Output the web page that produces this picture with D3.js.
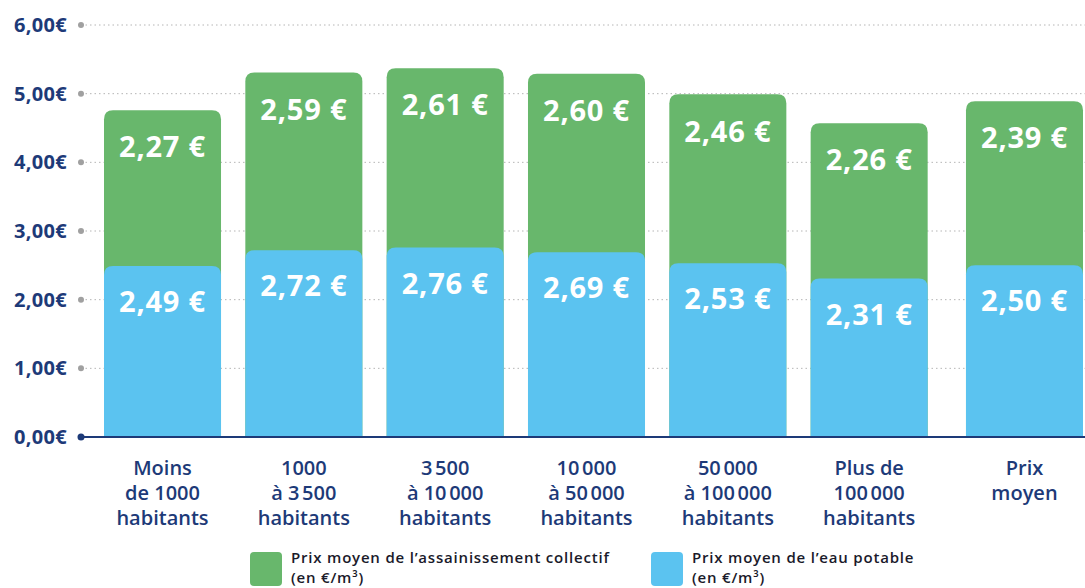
<!DOCTYPE html>
<html><head><meta charset="utf-8">
<script src="https://cdn.jsdelivr.net/npm/d3@7"></script>
<style>
html,body{margin:0;padding:0;background:#fff;}
svg{display:block;font-family:"Open Sans", Lato, sans-serif;}
</style></head>
<body>
<svg id="chart" width="1085" height="588"></svg>
<script>
const categories = [
  ["Moins", "de 1000", "habitants"],
  ["1000", "à 3\u202F500", "habitants"],
  ["3\u202F500", "à 10\u202F000", "habitants"],
  ["10\u202F000", "à 50\u202F000", "habitants"],
  ["50\u202F000", "à 100\u202F000", "habitants"],
  ["Plus de", "100\u202F000", "habitants"],
  ["Prix", "moyen"]
];
const eauPotable = [2.49, 2.72, 2.76, 2.69, 2.53, 2.31, 2.50];
const assainissement = [2.27, 2.59, 2.61, 2.60, 2.46, 2.26, 2.39];
const yTicks = [0, 1, 2, 3, 4, 5, 6];
const legendLabels = [
  ["Prix moyen de l\u2019assainissement collectif", "(en €/m³)"],
  ["Prix moyen de l\u2019eau potable", "(en €/m³)"]
];

const GREEN = "#68b76c", BLUE = "#5bc3f0", NAVY = "#1d3a78";
const svg = d3.select("#chart");
const keys = categories.map((c, i) => "c" + i);
const y = d3.scaleLinear().domain([0, 6]).range([437, 25]);
const x = d3.scaleBand().domain(keys).range([104, 1069]).paddingInner(0.172).paddingOuter(0);
const lastGap = 14;
const xPos = i => x(keys[i]) + (i === keys.length - 1 ? lastGap : 0);
const bw = x.bandwidth();
const fmt = v => d3.format(".2f")(v).replace(".", ",");

// gridlines
const axisX = 81;
const grid = svg.append("g");
yTicks.forEach(t => {
  if (t === 0) return;
  grid.append("line").attr("x1", axisX).attr("x2", 1085).attr("y1", y(t)).attr("y2", y(t))
    .attr("stroke", "#b5b5b5").attr("stroke-width", 1).attr("stroke-dasharray", "1.5,3");
  grid.append("circle").attr("cx", axisX).attr("cy", y(t)).attr("r", 3).attr("fill", "#a0a0a0");
});
// y tick labels
svg.append("g").selectAll("text").data(yTicks).join("text")
  .attr("x", 67).attr("y", d => y(d)).attr("dy", "0.35em").attr("text-anchor", "end")
  .attr("fill", NAVY).attr("font-size", 20).attr("font-weight", 700).attr("letter-spacing", 0.3)
  .text(d => fmt(d) + "€");

function topRounded(x0, w, yTop, yBot, r) {
  r = Math.min(r, (yBot - yTop));
  return `M${x0},${yBot}V${yTop + r}Q${x0},${yTop} ${x0 + r},${yTop}H${x0 + w - r}Q${x0 + w},${yTop} ${x0 + w},${yTop + r}V${yBot}Z`;
}

const bars = svg.append("g");
categories.forEach((c, i) => {
  const total = eauPotable[i] + assainissement[i];
  bars.append("path").attr("d", topRounded(xPos(i), bw, y(total), y(0), 9)).attr("fill", GREEN);
  bars.append("path").attr("d", topRounded(xPos(i), bw, y(eauPotable[i]), y(0), 9)).attr("fill", BLUE);
  bars.append("text").attr("x", xPos(i) + bw / 2).attr("y", y(total) + 37).attr("dy", "0.35em")
    .attr("text-anchor", "middle").attr("fill", "#fff").attr("font-size", 29).attr("font-weight", 700)
    .attr("letter-spacing", 0.8).text(fmt(assainissement[i]) + " €");
  bars.append("text").attr("x", xPos(i) + bw / 2).attr("y", y(eauPotable[i]) + 36).attr("dy", "0.35em")
    .attr("text-anchor", "middle").attr("fill", "#fff").attr("font-size", 29).attr("font-weight", 700)
    .attr("letter-spacing", 0.8).text(fmt(eauPotable[i]) + " €");
});

// baseline
svg.append("line").attr("x1", axisX).attr("x2", 1085).attr("y1", y(0)).attr("y2", y(0))
  .attr("stroke", NAVY).attr("stroke-width", 2);
svg.append("circle").attr("cx", axisX).attr("cy", y(0)).attr("r", 3.5).attr("fill", NAVY);

// x labels
const xl = svg.append("g");
categories.forEach((c, i) => {
  const t = xl.append("text").attr("text-anchor", "middle")
    .attr("fill", NAVY).attr("font-size", 20).attr("font-weight", 600);
  c.forEach((line, j) => t.append("tspan").attr("x", xPos(i) + bw / 2).attr("y", 475 + j * 25).text(line));
});

// legend
const legendX = [250, 651];
const legendColors = [GREEN, BLUE];
legendLabels.forEach((lab, i) => {
  const g = svg.append("g").attr("transform", `translate(${legendX[i]},552)`);
  g.append("rect").attr("width", 32).attr("height", 34).attr("rx", 4).attr("fill", legendColors[i]);
  lab.forEach((line, j) => g.append("text").attr("x", 41).attr("y", 11 + j * 20)
    .attr("fill", "#1a1a2a").attr("font-size", 15).attr("font-weight", 600)
    .attr("letter-spacing", 0.8).text(line));
});
</script>
</body></html>
